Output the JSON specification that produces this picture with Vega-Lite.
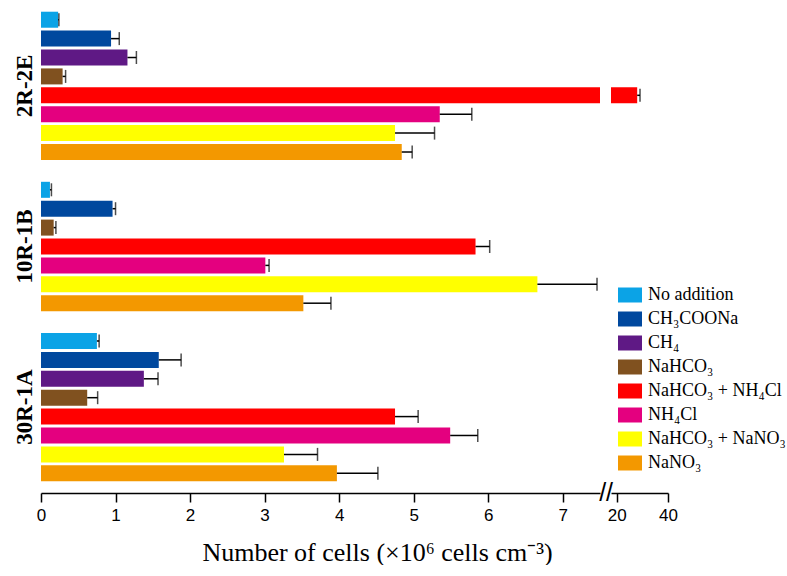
{
  "$schema": "https://vega.github.io/schema/vega-lite/v6.json",
  "padding": {"left": 5, "top": 0, "right": 0, "bottom": 0},
  "background": "white",
  "bounds": "flush",
  "config": {"view": {"stroke": null}, "concat": {"spacing": 11}, "font": "Liberation Sans"},
  "data": {"values": [
    {"site": "2R-2E", "treatment": "No addition", "value": 0.23, "err": 0.01},
    {"site": "2R-2E", "treatment": "CH₃COONa", "value": 0.94, "err": 0.11},
    {"site": "2R-2E", "treatment": "CH₄", "value": 1.16, "err": 0.12},
    {"site": "2R-2E", "treatment": "NaHCO₃", "value": 0.29, "err": 0.04},
    {"site": "2R-2E", "treatment": "NaHCO₃ + NH₄Cl", "value": 28.0, "err": 1.1},
    {"site": "2R-2E", "treatment": "NH₄Cl", "value": 5.35, "err": 0.43},
    {"site": "2R-2E", "treatment": "NaHCO₃ + NaNO₃", "value": 4.75, "err": 0.53},
    {"site": "2R-2E", "treatment": "NaNO₃", "value": 4.84, "err": 0.14},
    {"site": "10R-1B", "treatment": "No addition", "value": 0.12, "err": 0.02},
    {"site": "10R-1B", "treatment": "CH₃COONa", "value": 0.96, "err": 0.04},
    {"site": "10R-1B", "treatment": "NaHCO₃", "value": 0.17, "err": 0.03},
    {"site": "10R-1B", "treatment": "NaHCO₃ + NH₄Cl", "value": 5.83, "err": 0.19},
    {"site": "10R-1B", "treatment": "NH₄Cl", "value": 3.01, "err": 0.05},
    {"site": "10R-1B", "treatment": "NaHCO₃ + NaNO₃", "value": 6.66, "err": 0.8},
    {"site": "10R-1B", "treatment": "NaNO₃", "value": 3.52, "err": 0.37},
    {"site": "30R-1A", "treatment": "No addition", "value": 0.75, "err": 0.03},
    {"site": "30R-1A", "treatment": "CH₃COONa", "value": 1.58, "err": 0.3},
    {"site": "30R-1A", "treatment": "CH₄", "value": 1.38, "err": 0.19},
    {"site": "30R-1A", "treatment": "NaHCO₃", "value": 0.62, "err": 0.14},
    {"site": "30R-1A", "treatment": "NaHCO₃ + NH₄Cl", "value": 4.75, "err": 0.31},
    {"site": "30R-1A", "treatment": "NH₄Cl", "value": 5.49, "err": 0.37},
    {"site": "30R-1A", "treatment": "NaHCO₃ + NaNO₃", "value": 3.26, "err": 0.45},
    {"site": "30R-1A", "treatment": "NaNO₃", "value": 3.97, "err": 0.55}
  ]},
  "transform": [
    {"calculate": "datum.site + '|' + datum.treatment", "as": "row"},
    {"calculate": "datum.value + datum.err", "as": "hi"}
  ],
  "resolve": {"scale": {"x": "independent", "y": "shared"}},
  "hconcat": [
    {
      "width": 559,
      "height": 493,
      "layer": [
        {
          "mark": {"type": "bar", "clip": true},
          "encoding": {
            "y": {
              "field": "row", "type": "nominal",
              "scale": {
                "domain": ["2R-2E|No addition", "2R-2E|CH₃COONa", "2R-2E|CH₄", "2R-2E|NaHCO₃", "2R-2E|NaHCO₃ + NH₄Cl", "2R-2E|NH₄Cl", "2R-2E|NaHCO₃ + NaNO₃", "2R-2E|NaNO₃", "gap1",
                           "10R-1B|No addition", "10R-1B|CH₃COONa", "10R-1B|NaHCO₃", "10R-1B|NaHCO₃ + NH₄Cl", "10R-1B|NH₄Cl", "10R-1B|NaHCO₃ + NaNO₃", "10R-1B|NaNO₃", "gap2",
                           "30R-1A|No addition", "30R-1A|CH₃COONa", "30R-1A|CH₄", "30R-1A|NaHCO₃", "30R-1A|NaHCO₃ + NH₄Cl", "30R-1A|NH₄Cl", "30R-1A|NaHCO₃ + NaNO₃", "30R-1A|NaNO₃"],
                "paddingInner": 0.153, "paddingOuter": 0.62
              },
              "axis": {
                "title": null, "ticks": false, "domain": false,
                "labelAngle": -90, "labelAlign": "center", "labelBaseline": "alphabetic",
                "labelPadding": 10, "labelFont": "Liberation Serif", "labelFontWeight": "bold",
                "labelFontSize": 23, "labelColor": "black", "labelLimit": 0, "labelOverlap": false,
                "labelExpr": "datum.value == '2R-2E|NaHCO₃' ? '2R-2E' : datum.value == '10R-1B|NaHCO₃ + NH₄Cl' ? '10R-1B' : datum.value == '30R-1A|NaHCO₃' ? '30R-1A' : ''",
                "labelOffset": {"condition": {"test": "datum.value == '10R-1B|NaHCO₃ + NH₄Cl'", "value": 0}, "value": 9.45},
                "minExtent": 36, "maxExtent": 36
              }
            },
            "x": {
              "field": "value", "type": "quantitative",
              "scale": {"domain": [0, 7.5], "nice": false},
              "axis": {
                "title": "Number of cells (×10⁶ cells cm⁻³)",
                "values": [0, 0.5, 1, 1.5, 2, 2.5, 3, 3.5, 4, 4.5, 5, 5.5, 6, 6.5, 7],
                "labelExpr": "datum.value % 1 == 0 ? format(datum.value, 'd') : ''",
                "grid": false,
                "tickSize": {"condition": {"test": "datum.value % 1 != 0", "value": 5}, "value": 9},
                "tickColor": "black", "tickWidth": 1.5,
                "domainColor": "black", "domainWidth": 1.5,
                "labelFont": "Liberation Sans", "labelFontSize": 17, "labelColor": "black",
                "labelPadding": 5, "labelFlush": false, "labelOverlap": false,
                "titleFont": "Liberation Serif", "titleFontSize": 26, "titleFontWeight": "normal",
                "titleColor": "black", "titleX": 336, "titleY": 59, "titleBaseline": "middle", "titleAlign": "center"
              }
            },
            "color": {
              "field": "treatment", "type": "nominal",
              "scale": {
                "domain": ["No addition", "CH₃COONa", "CH₄", "NaHCO₃", "NaHCO₃ + NH₄Cl", "NH₄Cl", "NaHCO₃ + NaNO₃", "NaNO₃"],
                "range": ["#0BA3E6", "#00489E", "#5F1985", "#80511F", "#FF0000", "#E4007F", "#FFFF00", "#F39800"]
              },
              "legend": {
                "orient": "none", "legendX": 577, "legendY": 283, "title": null,
                "symbolType": "M-1,-0.625H1V0.625H-1Z", "symbolSize": 576, "symbolStrokeWidth": 0,
                "symbolOpacity": 1,
                "labelFont": "Liberation Serif", "labelFontSize": 18, "labelColor": "black",
                "rowPadding": 3, "labelOffset": 6, "labelLimit": 300
              }
            }
          }
        },
        {
          "mark": {"type": "rule", "clip": true, "color": "black", "strokeWidth": 1.5},
          "encoding": {
            "y": {"field": "row", "type": "nominal"},
            "x": {"field": "value", "type": "quantitative"},
            "x2": {"field": "hi"}
          }
        },
        {
          "mark": {"type": "tick", "clip": true, "color": "black", "thickness": 1.5, "size": 13},
          "encoding": {
            "y": {"field": "row", "type": "nominal"},
            "x": {"field": "hi", "type": "quantitative"}
          }
        }
      ]
    },
    {
      "width": 57,
      "height": 493,
      "layer": [
        {
          "mark": {"type": "bar", "clip": true},
          "encoding": {
            "y": {"field": "row", "type": "nominal", "axis": null},
            "x": {
              "field": "value", "type": "quantitative",
              "scale": {"domain": [17.8, 40], "nice": false, "zero": false},
              "axis": {
                "title": null,
                "values": [20, 30, 40],
                "labelExpr": "datum.value == 30 ? '' : format(datum.value, 'd')",
                "grid": false,
                "tickSize": {"condition": {"test": "datum.value == 30", "value": 5}, "value": 9},
                "tickColor": "black", "tickWidth": 1.5,
                "domainColor": "black", "domainWidth": 1.5,
                "labelFont": "Liberation Sans", "labelFontSize": 17, "labelColor": "black",
                "labelPadding": 5,
                "labelFlush": false, "labelOverlap": false
              }
            },
            "color": {"field": "treatment", "type": "nominal"}
          }
        },
        {
          "mark": {"type": "rule", "clip": true, "color": "black", "strokeWidth": 1.5},
          "encoding": {
            "y": {"field": "row", "type": "nominal"},
            "x": {"field": "value", "type": "quantitative"},
            "x2": {"field": "hi"}
          }
        },
        {
          "mark": {"type": "tick", "clip": true, "color": "black", "thickness": 1.5, "size": 13},
          "encoding": {
            "y": {"field": "row", "type": "nominal"},
            "x": {"field": "hi", "type": "quantitative"}
          }
        },
        {
          "data": {"values": [{"mark": "//", "at": 15.9, "row": "30R-1A|NaNO₃"}]},
          "mark": {"type": "text", "fontSize": 25, "dy": 20, "font": "Liberation Sans", "color": "black"},
          "encoding": {
            "text": {"field": "mark"},
            "x": {"field": "at", "type": "quantitative"},
            "y": {"field": "row", "type": "nominal"}
          }
        }
      ]
    }
  ]
}
